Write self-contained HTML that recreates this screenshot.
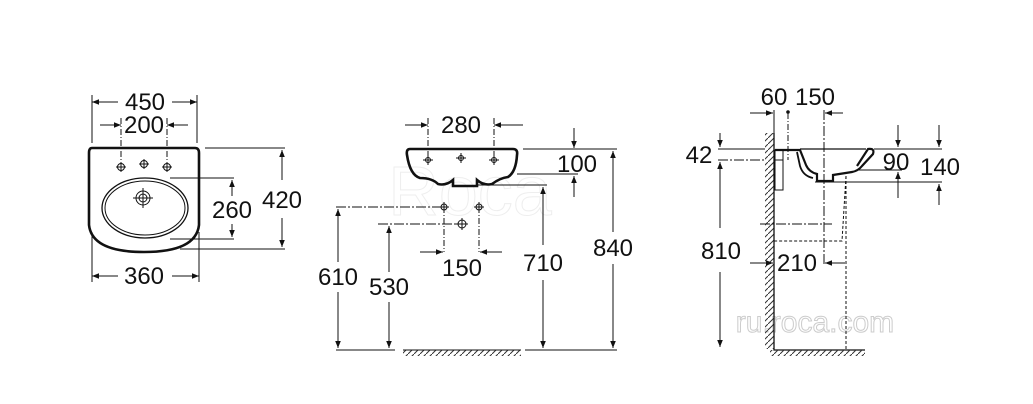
<!DOCTYPE html>
<html><head><meta charset="utf-8"><style>
html,body{margin:0;padding:0;background:#fff;}
svg{display:block}
text{font-family:"Liberation Sans",sans-serif;font-size:24px;fill:#111;text-anchor:middle}
</style></head><body>
<svg width="1033" height="404" viewBox="0 0 1033 404" xmlns="http://www.w3.org/2000/svg">
<defs>
<marker id="a" viewBox="0 0 10 10" refX="10" refY="5" markerWidth="10" markerHeight="7" markerUnits="userSpaceOnUse" orient="auto"><path d="M0,1 L10,5 L0,9 Z" fill="#111"/></marker>
<pattern id="h" width="6" height="6" patternUnits="userSpaceOnUse"><path d="M-1,7 L7,-1" stroke="#333" stroke-width="1"/></pattern>
</defs>
<g stroke="#111" fill="none" stroke-width="1">
<!-- watermark -->
<text x="815" y="332" style="font-size:30px;fill:#fff;stroke:#ccc;stroke-width:1">ru.roca.com</text>
<text x="470" y="215" style="font-size:70px;fill:none;stroke:#eee;stroke-width:1">Roca</text>

<!-- LEFT VIEW -->
<path d="M92,95V143M197,95V143" />
<line x1="118" y1="102" x2="92" y2="102" marker-end="url(#a)"/>
<line x1="172" y1="102" x2="197" y2="102" marker-end="url(#a)"/>
<line x1="100" y1="125" x2="121" y2="125" marker-end="url(#a)"/>
<line x1="188" y1="125" x2="167" y2="125" marker-end="url(#a)"/>
<path d="M121,118V160M167,118V160" stroke-dasharray="6,2,1,2"/>
<path d="M92,148 Q89,148 89,153 V225 Q92,252 144,252 Q196,252 199,225 V153 Q199,148 195,148 Z" stroke-width="2.6"/>
<ellipse cx="145" cy="208" rx="43" ry="30" stroke-width="1.3"/>
<ellipse cx="145" cy="208" rx="40" ry="27" stroke-width="1"/>
<circle cx="143" cy="198" r="7"/><circle cx="143" cy="198" r="4"/>
<path d="M133,198H153M143,188V208"/>
<g><circle cx="121" cy="167" r="3.5"/><path d="M116,167H126M121,162V172"/>
<circle cx="144" cy="164" r="3.5"/><path d="M139,164H149M144,159V169"/>
<circle cx="167" cy="167" r="3.5"/><path d="M162,167H172M167,162V172"/></g>
<path d="M205,148H285M180,249H285M170,178H234M170,239H234"/>
<line x1="282" y1="180" x2="282" y2="150" marker-end="url(#a)"/>
<line x1="282" y1="218" x2="282" y2="247" marker-end="url(#a)"/>
<line x1="232" y1="196" x2="232" y2="180" marker-end="url(#a)"/>
<line x1="232" y1="224" x2="232" y2="237" marker-end="url(#a)"/>
<path d="M92,232V282M199,232V282"/>
<line x1="118" y1="276" x2="92" y2="276" marker-end="url(#a)"/>
<line x1="172" y1="276" x2="199" y2="276" marker-end="url(#a)"/>

<!-- MIDDLE VIEW -->
<line x1="405" y1="125" x2="428" y2="125" marker-end="url(#a)"/>
<line x1="523" y1="125" x2="494" y2="125" marker-end="url(#a)"/>
<path d="M428,118V165M494,118V165" stroke-dasharray="6,2,1,2"/>
<path d="M410,149 Q406,149 407,155 Q410,175 420,178 Q432,178 438,184 Q446,186 453,180 V186 H477 V180 Q484,186 492,184 Q500,178 508,177 Q516,172 517,155 Q518,149 513,149 Z" stroke-width="2.6"/>
<g><circle cx="428" cy="160" r="2.5"/><path d="M423,160H433M428,155V165"/>
<circle cx="461" cy="158" r="2.5"/><path d="M456,158H466M461,153V163"/>
<circle cx="494" cy="160" r="2.5"/><path d="M489,160H499M494,155V165"/></g>
<path d="M523,149H617M517,174H578M477,185H547"/>
<line x1="574" y1="128" x2="574" y2="148" marker-end="url(#a)"/>
<line x1="574" y1="197" x2="574" y2="176" marker-end="url(#a)"/>
<line x1="613" y1="232" x2="613" y2="151" marker-end="url(#a)"/>
<line x1="613" y1="264" x2="613" y2="348" marker-end="url(#a)"/>
<line x1="543" y1="245" x2="543" y2="187" marker-end="url(#a)"/>
<line x1="543" y1="280" x2="543" y2="348" marker-end="url(#a)"/>
<path d="M336,207H445M378,224H462" stroke-dasharray="10,2,2,2"/>
<path d="M444,207V252M479,207V252" stroke-dasharray="6,2,1,2"/>
<circle cx="444" cy="207" r="3"/><path d="M439,207H449M444,202V212"/>
<circle cx="479" cy="207" r="3"/><path d="M474,207H484M479,202V212"/>
<circle cx="462" cy="224" r="4"/><path d="M456,224H468M462,218V230"/>
<line x1="338" y1="262" x2="338" y2="209" marker-end="url(#a)"/>
<line x1="338" y1="292" x2="338" y2="348" marker-end="url(#a)"/>
<line x1="389" y1="272" x2="389" y2="226" marker-end="url(#a)"/>
<line x1="389" y1="302" x2="389" y2="348" marker-end="url(#a)"/>
<line x1="420" y1="252" x2="443" y2="252" marker-end="url(#a)"/>
<line x1="502" y1="252" x2="480" y2="252" marker-end="url(#a)"/>
<path d="M336,350H395M525,350H617"/>
<rect x="403" y="350" width="118" height="6" fill="url(#h)" stroke="none"/>
<path d="M403,350H521"/>

<!-- RIGHT VIEW -->
<rect x="765" y="133" width="9" height="216" fill="url(#h)" stroke="none"/>
<path d="M774,133V350H865" stroke-width="1.3"/>
<rect x="770" y="350" width="95" height="6" fill="url(#h)" stroke="none"/>
<line x1="750" y1="113" x2="773" y2="113" marker-end="url(#a)"/>
<line x1="843" y1="113" x2="825" y2="113" marker-end="url(#a)"/>
<path d="M774,110V135"/>
<path d="M788,113V160" stroke-dasharray="6,2,1,2"/><circle cx="788" cy="112" r="1.3" fill="#111"/>
<path d="M824,110V265" stroke-dasharray="10,2,2,2"/>
<path d="M718,149H765"/>
<path d="M718,160H765M760,224H832" stroke-dasharray="10,2,2,2"/>
<line x1="720" y1="133" x2="720" y2="147" marker-end="url(#a)"/>
<line x1="720" y1="228" x2="720" y2="162" marker-end="url(#a)"/>
<line x1="720" y1="272" x2="720" y2="347" marker-end="url(#a)"/>
<!-- basin side -->
<path d="M775,150H800 L806,165 Q809,172 817,174 V181 H833 V175 L852,172 Q858,171 862,166 L873,154 Q875,148 868,149 L857,166" stroke-width="2.2"/>
<path d="M800,149 H866" stroke-width="1.2"/>
<path d="M797,152 L800,166 Q803,176 813,178" stroke-width="1.8"/>
<rect x="775" y="150" width="8" height="40" stroke-width="1"/>
<path d="M775,160H783"/>
<path d="M874,149H942M858,170H902M815,182H942"/>
<line x1="898" y1="125" x2="898" y2="147" marker-end="url(#a)"/>
<line x1="898" y1="198" x2="898" y2="172" marker-end="url(#a)"/>
<line x1="939" y1="125" x2="939" y2="147" marker-end="url(#a)"/>
<line x1="939" y1="205" x2="939" y2="184" marker-end="url(#a)"/>
<path d="M846,176 L842,241 H774" stroke-dasharray="3,2"/>
<path d="M846,176 V350" stroke-dasharray="3,2"/>
<line x1="750" y1="263" x2="773" y2="263" marker-end="url(#a)"/>
<line x1="845" y1="263" x2="825" y2="263" marker-end="url(#a)"/>
</g>
<g stroke="none">
<text x="145" y="110">450</text>
<text x="144" y="133">200</text>
<text x="282" y="208">420</text>
<text x="232" y="218">260</text>
<text x="144" y="284">360</text>
<text x="461" y="133">280</text>
<text x="577" y="172">100</text>
<text x="613" y="256">840</text>
<text x="543" y="271">710</text>
<text x="338" y="285">610</text>
<text x="389" y="295">530</text>
<text x="462" y="276">150</text>
<text x="774" y="105">60</text>
<text x="815" y="105">150</text>
<text x="699" y="163">42</text>
<text x="721" y="259">810</text>
<text x="896" y="170">90</text>
<text x="940" y="175">140</text>
<text x="797" y="271">210</text>
</g>
</svg>
</body></html>
